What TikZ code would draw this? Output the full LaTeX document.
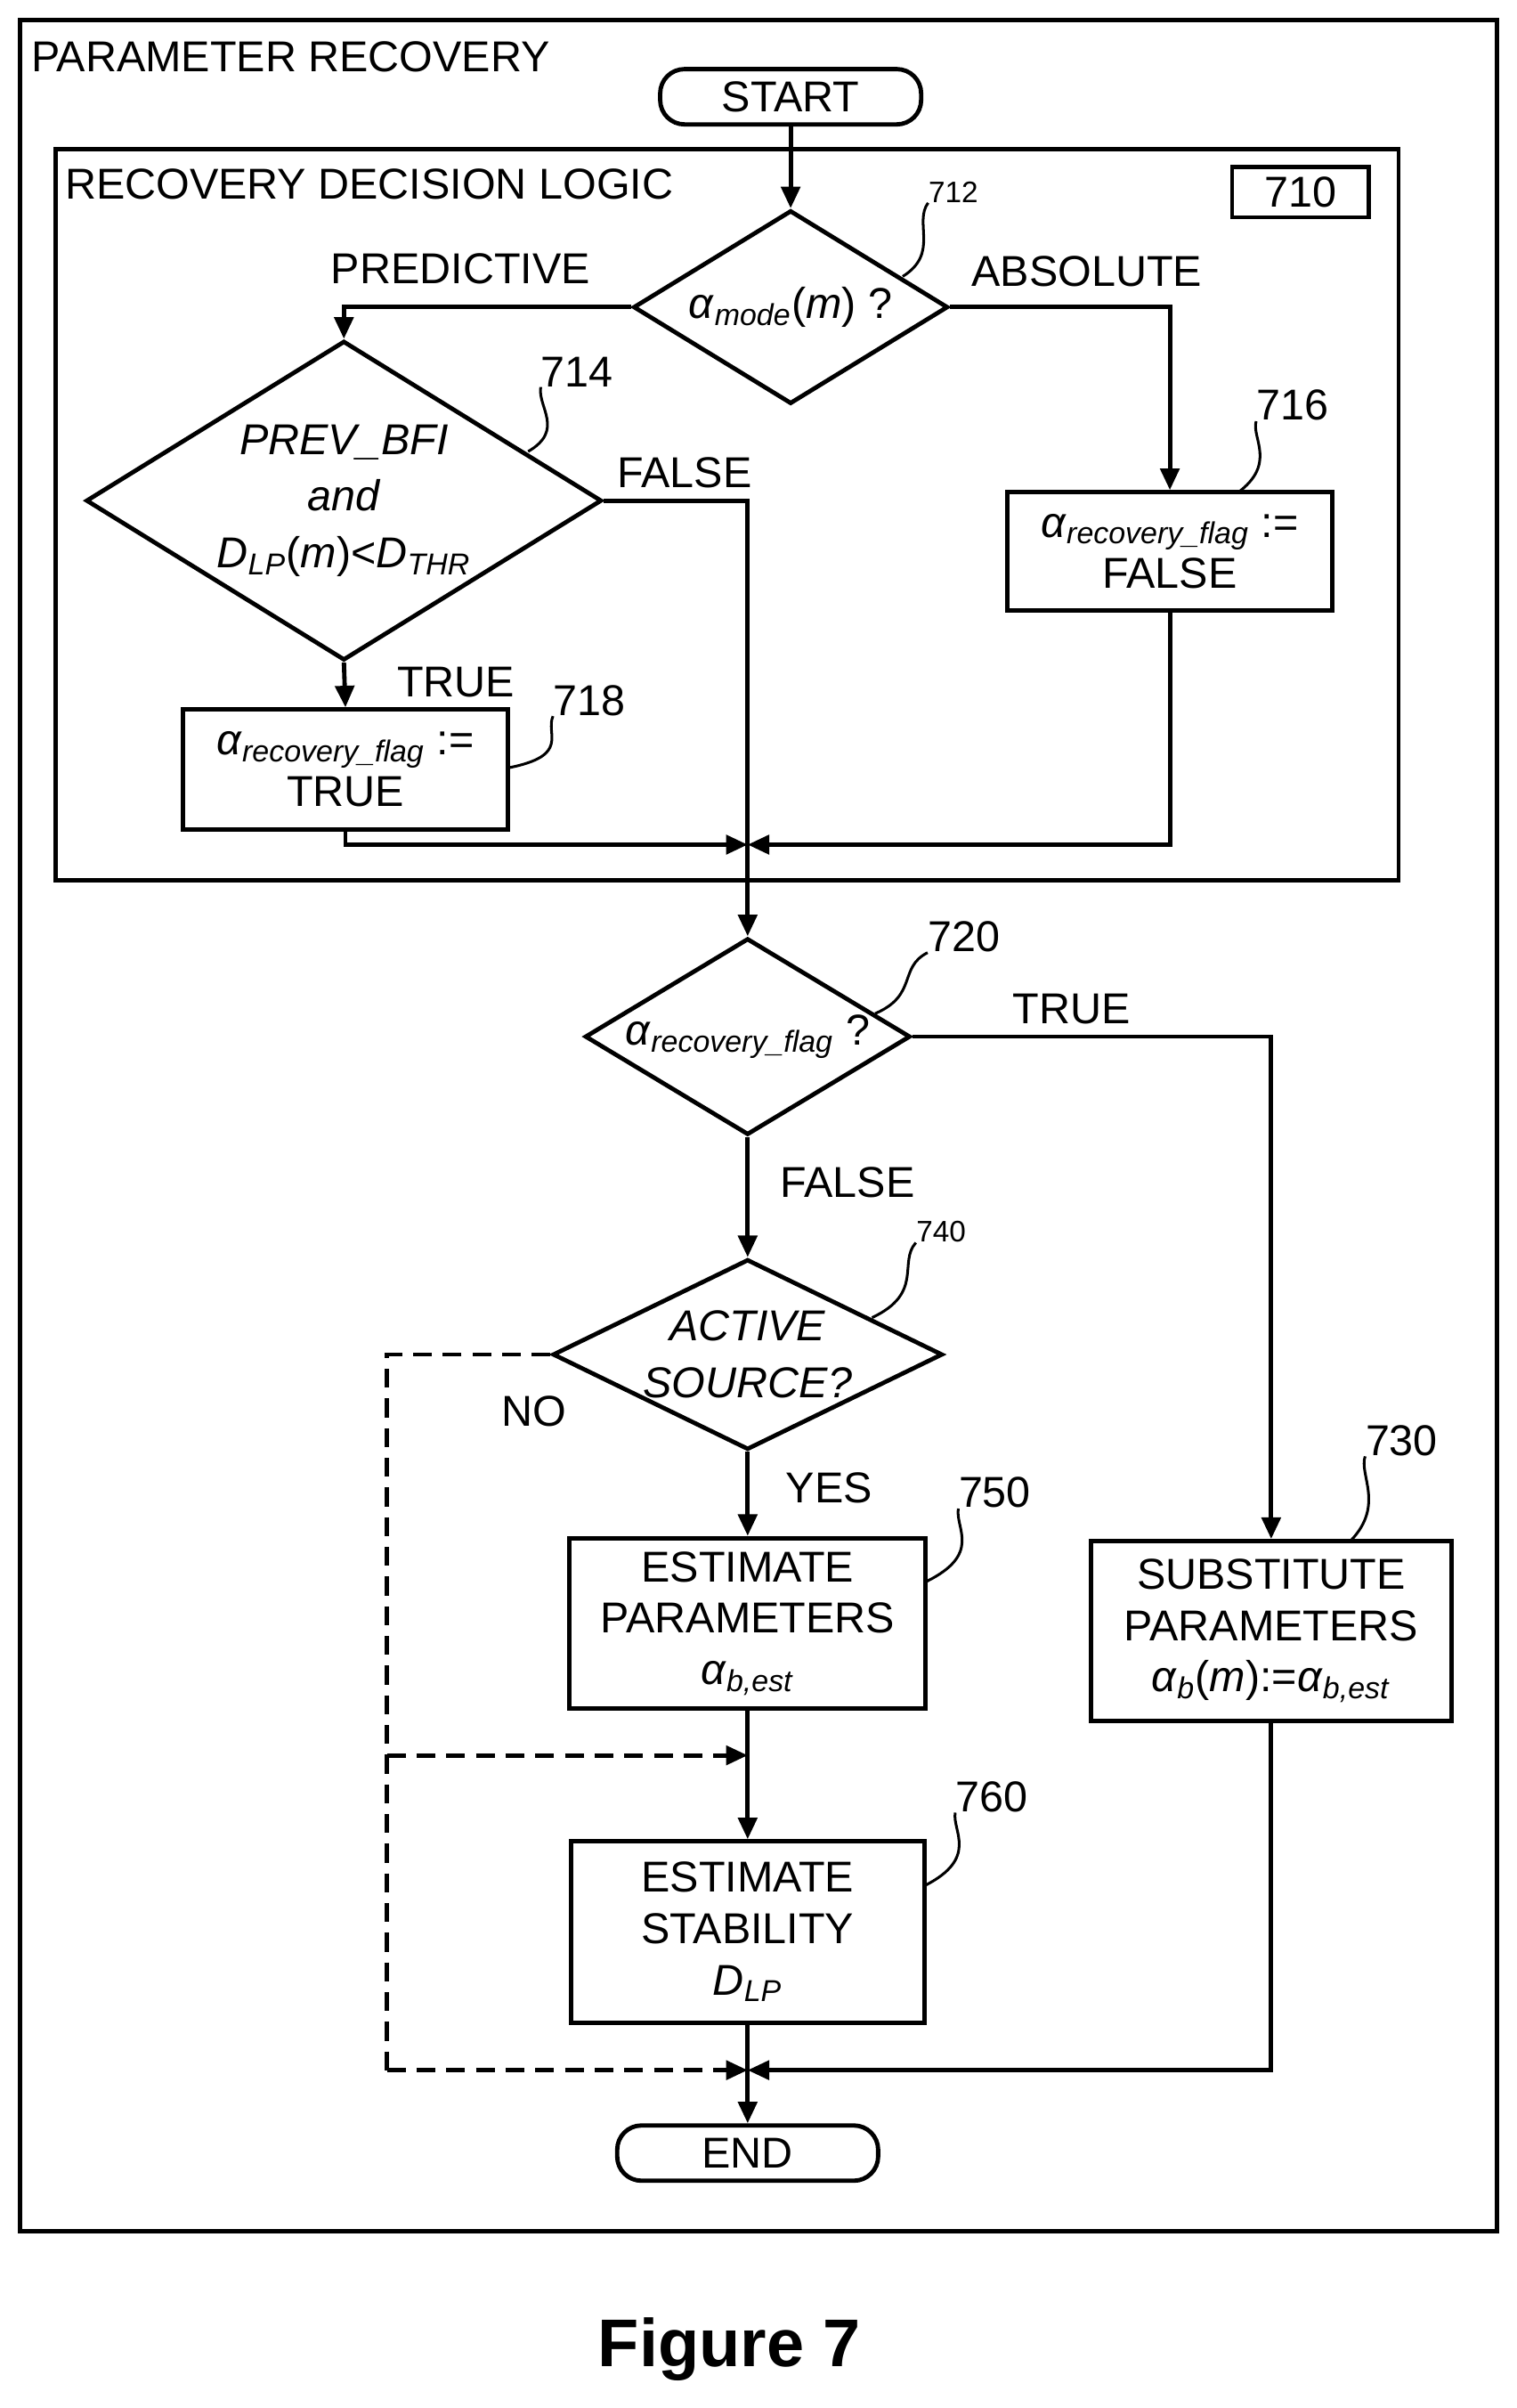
\documentclass[tikz,border=0pt]{standalone}
\usepackage{fontspec}
\setmainfont{Liberation Sans}
\usetikzlibrary{arrows.meta,shapes.geometric}
\newcommand{\al}[1]{\textit{α}\textsubscript{\textit{#1}}}
\tikzset{
	base/.style={draw, line width=1.6pt, inner sep=0pt, font=\fontsize{16}{19}\selectfont, align=center},
	box/.style={base, rectangle},
	term/.style={base, rounded corners=9pt, minimum width=3.4cm, minimum height=0.72cm},
	dia/.style={base, diamond},
	line/.style={line width=1.6pt},
	arr/.style={line, -{Triangle[length=8pt,width=7pt]}},
	dashline/.style={line, dash pattern=on 7pt off 4pt},
	txt/.style={inner sep=0pt, font=\fontsize{16}{19}\selectfont},
	num/.style={inner sep=0pt, font=\fontsize{16}{19}\selectfont},
	small/.style={inner sep=0pt, font=\fontsize{11}{13}\selectfont},
	lead/.style={line width=1pt}
}
\begin{document}
\begin{tikzpicture}[x=0.02cm, y=-0.02cm]
		\useasboundingbox (0,0) rectangle (988,1568);
		% frames
		\draw[line] (13,13) rectangle (975,1453);
		\node[txt, anchor=west] (title) at (20,37) {PARAMETER RECOVERY};
		\draw[line] (36,97) rectangle (911,573);
		\node[txt, anchor=west] (logic) at (42,120) {RECOVERY DECISION LOGIC};
		\node[box, minimum width=1.78cm, minimum height=0.66cm] (n710) at (847,125) {710};

		% nodes
		\node[term] (start) at (515,63) {START};
		\node[dia, minimum width=4.1cm, minimum height=2.52cm,
			label={[txt]center:\al{mode}(\textit{m}) ?}] (d712) at (515,200) {};
		\node[dia, minimum width=6.72cm, minimum height=4.16cm,
			label={[txt, align=center]center:\textit{PREV\_BFI}\\[2pt]\textit{and}\\[2pt]\textit{D\textsubscript{LP}}(\textit{m})<\textit{D\textsubscript{THR}}}] (d714) at (224,326) {};
		\node[box, minimum width=4.24cm, minimum height=1.54cm] (b716) at (762,359) {\al{recovery\_flag} :=\\FALSE};
		\node[box, minimum width=4.24cm, minimum height=1.56cm] (b718) at (225,501) {\al{recovery\_flag} :=\\TRUE};
		\node[dia, minimum width=4.24cm, minimum height=2.56cm,
			label={[txt]center:\al{recovery\_flag} ?}] (d720) at (487,675) {};
		\node[dia, minimum width=5.08cm, minimum height=2.48cm,
			label={[txt, align=center]center:\textit{ACTIVE}\\[2pt]\textit{SOURCE?}}] (d740) at (487,882) {};
		\node[box, minimum width=4.64cm, minimum height=2.22cm] (b750) at (487,1057) {ESTIMATE\\PARAMETERS\\\al{b,est}};
		\node[box, minimum width=4.6cm, minimum height=2.36cm] (b760) at (487,1258) {ESTIMATE\\STABILITY\\\textit{D\textsubscript{LP}}};
		\node[box, minimum width=4.7cm, minimum height=2.34cm] (b730) at (828,1062) {SUBSTITUTE\\PARAMETERS\\\al{b}(\textit{m}):=\al{b,est}};
		\node[term] (end) at (487,1402) {END};

		\coordinate (j1) at (487,550);
		\coordinate (j2) at (487,1348);
		\coordinate (j3) at (487,1143);
		\coordinate (k1) at (252,1143);
		\coordinate (k2) at (252,1348);

		% connectors
		\draw[arr] (start.south) -- (d712.north);
		\draw[arr] (d712.west) -| (d714.north);
		\draw[arr] (d712.east) -| (b716.north);
		\draw[arr] (d714.south) -- (b718.north);
		\draw[arr] (d714.east) -| (d720.north);
		\draw[arr] (b718.south) |- (j1);
		\draw[arr] (b716.south) |- (j1);
		\draw[arr] (d720.east) -| (b730.north);
		\draw[arr] (d720.south) -- (d740.north);
		\draw[arr] (d740.south) -- (b750.north);
		\draw[arr] (b750.south) -- (b760.north);
		\draw[arr] (b760.south) -- (end.north);
		\draw[arr] (b730.south) |- (j2);
		\draw[dashline] (d740.west) -| (k2);
		\draw[dashline, -{Triangle[length=8pt,width=7pt]}] (k2) -- (j2);
		\draw[dashline, -{Triangle[length=8pt,width=7pt]}] (k1) -- (j3);

		% branch labels
		\node[txt] (lpred) at (300,175) {PREDICTIVE};
		\node[txt] (labs) at (708,177) {ABSOLUTE};
		\node[txt] (lf714) at (446,308) {FALSE};
		\node[txt] (lt714) at (297,444) {TRUE};
		\node[txt] (lt720) at (698,657) {TRUE};
		\node[txt] (lf720) at (552,770) {FALSE};
		\node[txt] (lno) at (348,919) {NO};
		\node[txt] (lyes) at (540,969) {YES};

		% reference numbers
		\node[small] (n712) at (621,125) {712};
		\draw[lead] (n712.south west) .. controls (595,145) and (612,165) .. (588,180);
		\node[num] (n714) at (376,242) {714};
		\draw[lead] (n714.south west) .. controls (350,265) and (368,280) .. (344,294);
		\node[num] (n716) at (842,264) {716};
		\draw[lead] (n716.south west) .. controls (815,285) and (832,302) .. (806,321);
		\node[num] (n718) at (384,456) {718};
		\draw[lead] (n718.south west) .. controls (355,478) and (372,492) .. (331,500);
		\node[num] (n720) at (628,610) {720};
		\draw[lead] (n720.south west) .. controls (585,630) and (598,648) .. (570,660);
		\node[small] (n740) at (613,802) {740};
		\draw[lead] (n740.south west) .. controls (585,822) and (602,842) .. (568,858);
		\node[num] (n750) at (648,972) {750};
		\draw[lead] (n750.south west) .. controls (622,995) and (640,1012) .. (603,1030);
		\node[num] (n760) at (646,1170) {760};
		\draw[lead] (n760.south west) .. controls (620,1192) and (638,1210) .. (602,1228);
		\node[num] (n730) at (913,938) {730};
		\draw[lead] (n730.south west) .. controls (885,960) and (902,980) .. (880,1003);

		\node[inner sep=0pt, font=\fontsize{25}{30}\selectfont\bfseries] (fig) at (475,1530) {Figure 7};
	\end{tikzpicture}
\end{document}
